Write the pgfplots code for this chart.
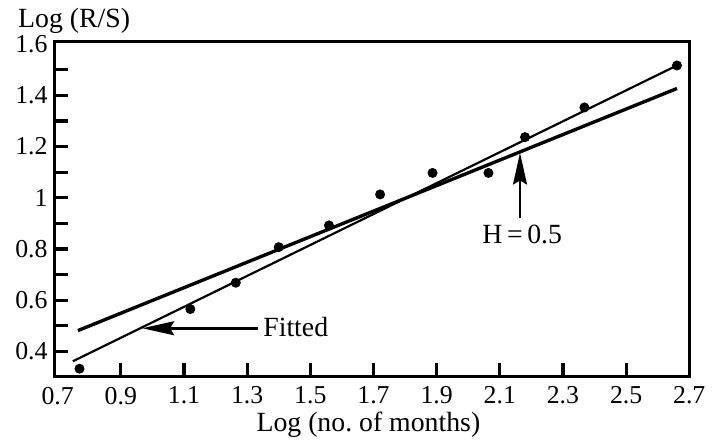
\documentclass[border=0pt]{standalone}
\usepackage{fontspec}
\setmainfont{Liberation Serif}
\usepackage{pgfplots}
\pgfplotsset{compat=1.18}
\usetikzlibrary{arrows.meta}

\begin{document}
\begin{tikzpicture}
\begin{axis}[
  scale only axis, width=320pt, height=169pt,
  xmin=0.69, xmax=2.7, ymin=0.3, ymax=1.61,
  axis line style={line width=1.4pt},
  xtick={0.9,1.1,1.3,1.5,1.7,1.9,2.1,2.3,2.5},
  extra x ticks={0.7,2.7},
  extra x tick style={major tick length=0pt},
  ytick={0.4,0.6,0.8,1,1.2,1.4},
  minor ytick={0.5,0.7,0.9,1.1,1.3,1.5},
  extra y ticks={1.6},
  extra y tick style={major tick length=0pt},
  xtick pos=left, ytick pos=left,
  tick align=inside,
  major tick length=7pt, minor tick length=7pt,
  every tick/.style={black, line width=1.6pt},
  /pgf/number format/assume math mode=true,
  xticklabel style={font=\fontsize{13}{15}\selectfont, yshift=-1.5pt},
  yticklabel style={font=\fontsize{13}{15}\selectfont},
  clip=false,
]
\addplot[only marks, mark=*, mark size=2.3pt, black] coordinates {
 (0.769,0.332) (1.120,0.565) (1.264,0.668) (1.400,0.807) (1.559,0.892)
 (1.721,1.013) (1.887,1.097) (2.064,1.097) (2.180,1.237) (2.368,1.353)
 (2.661,1.517)
};
\addplot[black, line width=1.1pt] coordinates {(0.748,0.361) (2.661,1.517)};
\addplot[black, line width=1.7pt] coordinates {(0.764,0.481) (2.661,1.427)};
\draw[black, line width=1.3pt, -{Stealth[length=16pt,width=7pt,inset=2pt]}]
  (axis cs:1.334,0.490) -- (axis cs:0.968,0.490);
\draw[black, line width=1.3pt, -{Stealth[length=16pt,width=7pt,inset=2pt]}]
  (axis cs:2.164,0.92) -- (axis cs:2.164,1.176);
\node[anchor=west, font=\fontsize{14}{16}\selectfont, inner sep=0pt] at (axis cs:1.350,0.494) {Fitted};
\node[font=\fontsize{14}{16}\selectfont, inner sep=0pt] at (axis cs:2.171,0.856) {H\,=\,0.5};
\node[anchor=base west, font=\fontsize{14}{16}\selectfont, inner sep=0pt] at ([xshift=-18.5pt, yshift=7pt]rel axis cs:0,1) {Log (R/S)};
\node[anchor=base, font=\fontsize{14}{16}\selectfont, inner sep=0pt] at ([xshift=-1.75pt, yshift=-27.5pt]rel axis cs:0.5,0) {Log (no.\ of months)};
\end{axis}
\path ([shift={(-27.5pt,-33.5pt)}]current axis.south west) rectangle ([shift={(328.5pt,190pt)}]current axis.south west);
\end{tikzpicture}
\end{document}
